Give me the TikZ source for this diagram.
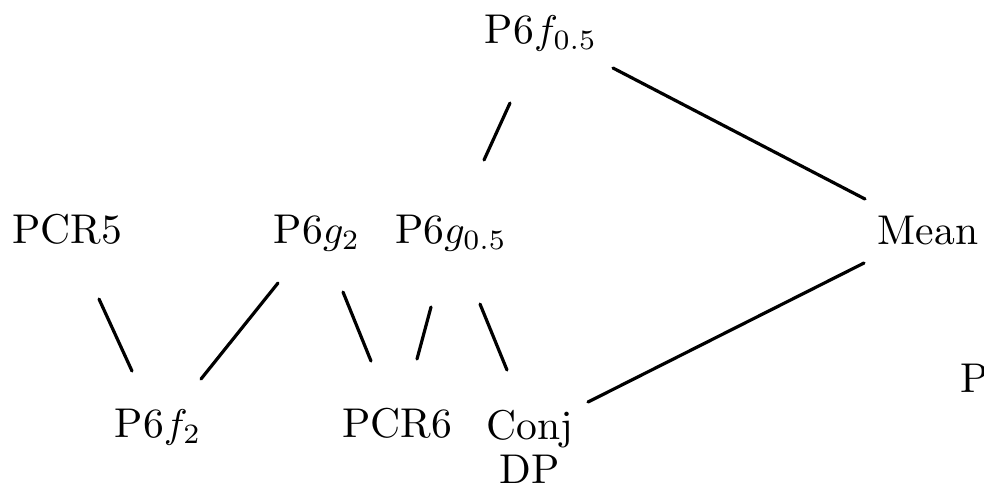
\documentclass[tikz,border=0pt]{standalone}
\begin{document}
\begin{tikzpicture}[x=0.25pt,y=-0.25pt,
  lbl/.style={anchor=base,inner sep=0pt,outer sep=0pt,font=\fontsize{10.4}{11}\selectfont},
  edge/.style={line width=0.8pt,line cap=round}]
\useasboundingbox (0,0) rectangle (984,487);
\node[lbl] (f05) at (541,43) {P6$f_{0.5}$};
\node[lbl] (pcr5) at (67,243) {PCR5};
\node[lbl] (g2) at (317,243) {P6$g_2$};
\node[lbl] (g05) at (451,243) {P6$g_{0.5}$};
\node[lbl] (mean) at (928,244) {Mean};
\node[lbl] (f2) at (158,437) {P6$f_2$};
\node[lbl] (pcr6) at (397,437) {PCR6};
\node[lbl,align=center] (conj) at (530,483) {Conj\\DP};
\node[lbl,anchor=base west] (p) at (960,392) {P};
\draw[edge] ([shift={(72,25)}]f05.base) -- ([shift={(-63,-45)}]mean.base);
\draw[edge] ([shift={(-31,60)}]f05.base) -- ([shift={(33,-83)}]g05.base);
\draw[edge] ([shift={(32,56)}]pcr5.base) -- ([shift={(-26,-66)}]f2.base);
\draw[edge] ([shift={(-39,40)}]g2.base) -- ([shift={(43,-58)}]f2.base);
\draw[edge] ([shift={(26,49)}]g2.base) -- ([shift={(-26,-76)}]pcr6.base);
\draw[edge] ([shift={(-20,64)}]g05.base) -- ([shift={(20,-78)}]pcr6.base);
\draw[edge] ([shift={(29,61)}]g05.base) -- ([shift={(-23,-113)}]conj.base);
\draw[edge] ([shift={(-64,19)}]mean.base) -- ([shift={(58,-81)}]conj.base);
\end{tikzpicture}
\end{document}
